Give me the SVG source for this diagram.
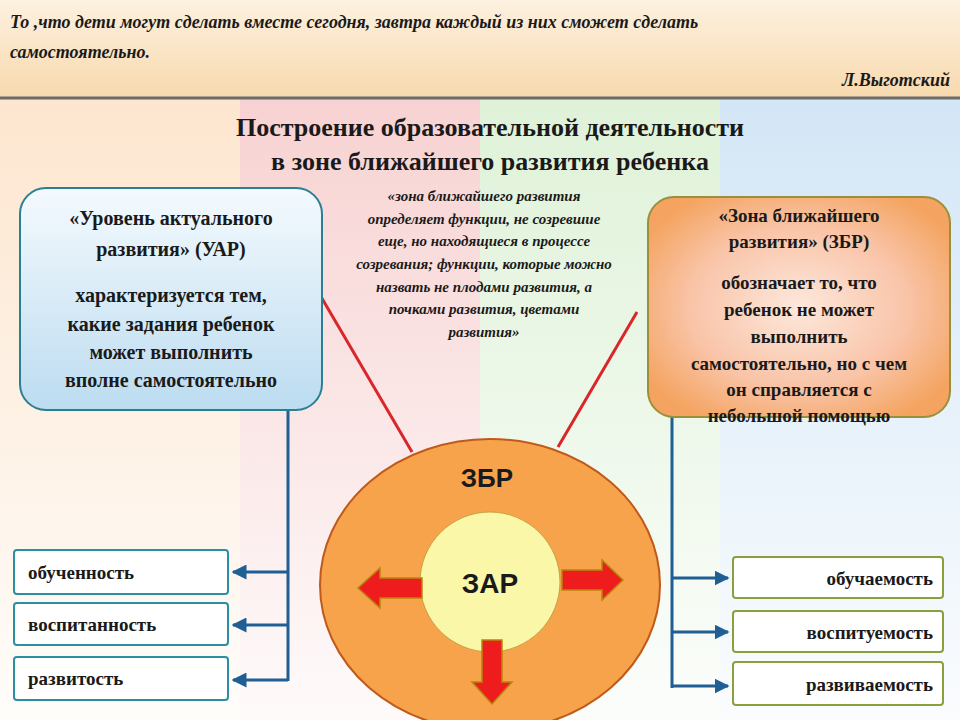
<svg xmlns="http://www.w3.org/2000/svg" width="960" height="720" viewBox="0 0 960 720">
<defs>
<linearGradient id="fade" x1="0" y1="0" x2="0" y2="1"><stop offset="0" stop-color="#fff" stop-opacity="0"/><stop offset="1" stop-color="#fff" stop-opacity="0.9"/></linearGradient>
<linearGradient id="hdr" x1="0" y1="0" x2="0" y2="1"><stop offset="0" stop-color="#fdf1e0"/><stop offset="1" stop-color="#f7d9ad"/></linearGradient>
<linearGradient id="lb" x1="0" y1="0" x2="0" y2="1"><stop offset="0" stop-color="#f4fafe"/><stop offset="1" stop-color="#bcdcf0"/></linearGradient>
<radialGradient id="rb" cx="0.5" cy="0.5" r="0.6"><stop offset="0" stop-color="#fde8dc"/><stop offset="0.6" stop-color="#f9c4a8"/><stop offset="1" stop-color="#f4a460"/></radialGradient>
<marker id="ah" viewBox="0 0 10 10" refX="9" refY="5" markerWidth="5" markerHeight="5" orient="auto"><path d="M0,0L10,5L0,10z" fill="#1f5f94"/></marker>
</defs>
<style>
.bt{font-family:"Liberation Serif","DejaVu Serif",serif;font-weight:bold;fill:#1a1a1a;text-anchor:middle}
.bs{font-family:"Liberation Serif","DejaVu Serif",serif;font-weight:bold;fill:#1a1a1a;text-anchor:start}
.be{font-family:"Liberation Serif","DejaVu Serif",serif;font-weight:bold;fill:#1a1a1a;text-anchor:end}
.it{font-family:"Liberation Serif","DejaVu Serif",serif;font-style:italic;font-weight:bold;fill:#1a1a1a}
.lbx{fill:#fff;stroke:#2a8fa0;stroke-width:2}
.rbx{fill:#fff;stroke:#8aa03a;stroke-width:2}
.con{stroke:#1f5f94;stroke-width:3;fill:none}
.red{fill:#ee1c1c;stroke:#b8860b;stroke-width:1.5}
</style>
<rect width="960" height="720" fill="#fff"/>
<rect x="0" y="98" width="240" height="622" fill="#fde6cf"/>
<rect x="240" y="98" width="240" height="622" fill="#f8d2d2"/>
<rect x="480" y="98" width="240" height="622" fill="#dff2d8"/>
<rect x="720" y="98" width="240" height="622" fill="#d3e6f6"/>
<rect x="0" y="98" width="960" height="622" fill="url(#fade)"/>
<rect x="0" y="0" width="960" height="98" fill="url(#hdr)"/>
<line x1="0" y1="98" x2="960" y2="98" stroke="#6b6b6b" stroke-width="3"/>
<text class="it" x="10" y="28" font-size="18">То ,что дети могут сделать вместе сегодня, завтра каждый из них сможет сделать</text>
<text class="it" x="10" y="58" font-size="18">самостоятельно.</text>
<text class="it" x="950" y="86" font-size="18" text-anchor="end">Л.Выготский</text>
<text class="bt" x="490" y="136" font-size="26">Построение образовательной деятельности</text>
<text class="bt" x="490" y="170" font-size="26">в зоне ближайшего развития ребенка</text>
<g id="quote" class="it" font-size="15" text-anchor="middle">
<text x="484" y="201">«зона ближайшего развития</text>
<text x="484" y="224">определяет функции, не созревшие</text>
<text x="484" y="246">еще, но находящиеся в процессе</text>
<text x="484" y="269">созревания; функции, которые можно</text>
<text x="484" y="292">назвать не плодами развития, а</text>
<text x="484" y="314">почками развития, цветами</text>
<text x="484" y="337">развития»</text>
</g>
<g id="connectors">
<line x1="320" y1="295" x2="412" y2="452" stroke="#d9262b" stroke-width="3"/>
<line x1="637" y1="312" x2="558" y2="447" stroke="#d9262b" stroke-width="3"/>
<line class="con" x1="288" y1="405" x2="288" y2="681"/>
<line class="con" x1="288" y1="572" x2="233" y2="572" marker-end="url(#ah)"/>
<line class="con" x1="288" y1="625" x2="233" y2="625" marker-end="url(#ah)"/>
<line class="con" x1="288" y1="680" x2="233" y2="680" marker-end="url(#ah)"/>
<line class="con" x1="672" y1="415" x2="672" y2="688"/>
<line class="con" x1="672" y1="578" x2="728" y2="578" marker-end="url(#ah)"/>
<line class="con" x1="672" y1="632" x2="728" y2="632" marker-end="url(#ah)"/>
<line class="con" x1="672" y1="686" x2="728" y2="686" marker-end="url(#ah)"/>
</g>
<g id="uar">
<rect x="20" y="188" width="302" height="222" rx="26" fill="url(#lb)" stroke="#2a7f93" stroke-width="2"/>
<text class="bt" x="171" y="225" font-size="20">«Уровень актуального</text>
<text class="bt" x="171" y="256" font-size="20">развития» (УАР)</text>
<text class="bt" x="171" y="302" font-size="20">характеризуется тем,</text>
<text class="bt" x="171" y="331" font-size="20">какие задания ребенок</text>
<text class="bt" x="171" y="359" font-size="20">может выполнить</text>
<text class="bt" x="171" y="387" font-size="20">вполне самостоятельно</text>
</g>
<g id="zbr">
<rect x="648" y="197" width="302" height="220" rx="26" fill="url(#rb)" stroke="#9a8f3a" stroke-width="2"/>
<text class="bt" x="799" y="222" font-size="19">«Зона ближайшего</text>
<text class="bt" x="799" y="248" font-size="19">развития» (ЗБР)</text>
<text class="bt" x="799" y="289" font-size="19">обозначает  то, что</text>
<text class="bt" x="799" y="316" font-size="19">ребенок не может</text>
<text class="bt" x="799" y="343" font-size="19">выполнить</text>
<text class="bt" x="799" y="370" font-size="19">самостоятельно, но с чем</text>
<text class="bt" x="799" y="396" font-size="19">он справляется с</text>
<text class="bt" x="799" y="422" font-size="19">небольшой помощью</text>
</g>
<g id="circle">
<ellipse cx="490" cy="585" rx="170" ry="146" fill="#f7a34c" stroke="#c05a1a" stroke-width="2"/>
<circle cx="490" cy="582" r="70" fill="#fbf7a8" stroke="#c8a040" stroke-width="1"/>
<text x="487" y="487" font-family="Liberation Sans,Arial,sans-serif" font-weight="bold" font-size="26" text-anchor="middle" fill="#1a1a1a">ЗБР</text>
<text x="490" y="593" font-family="Liberation Sans,Arial,sans-serif" font-weight="bold" font-size="28" text-anchor="middle" fill="#1a1a1a">ЗАР</text>
<path class="red" d="M422,578 L380,578 L380,568 L358,588 L380,608 L380,598 L422,598z"/>
<path class="red" d="M562,570 L602,570 L602,560 L623,580 L602,600 L602,590 L562,590z"/>
<path class="red" d="M482,640 L482,682 L472,682 L492,704 L512,682 L502,682 L502,640z"/>
</g>
<g id="l1"><rect class="lbx" x="14" y="550" width="214" height="44" rx="3"/><text class="bs" x="28" y="579" font-size="19">обученность</text></g>
<g id="l2"><rect class="lbx" x="14" y="603" width="214" height="42" rx="3"/><text class="bs" x="28" y="631" font-size="19">воспитанность</text></g>
<g id="l3"><rect class="lbx" x="14" y="657" width="214" height="43" rx="3"/><text class="bs" x="28" y="685" font-size="19">развитость</text></g>
<g id="r1"><rect class="rbx" x="733" y="557" width="210" height="41" rx="3"/><text class="be" x="933" y="585" font-size="19">обучаемость</text></g>
<g id="r2"><rect class="rbx" x="733" y="611" width="210" height="41" rx="3"/><text class="be" x="933" y="639" font-size="19">воспитуемость</text></g>
<g id="r3"><rect class="rbx" x="733" y="662" width="210" height="43" rx="3"/><text class="be" x="933" y="691" font-size="19">развиваемость</text></g>
</svg>
